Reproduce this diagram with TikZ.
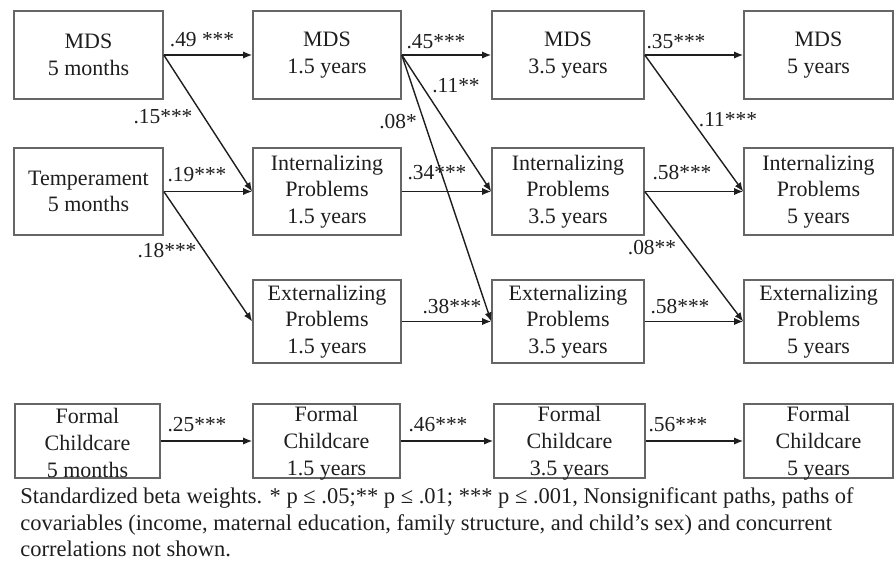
\documentclass[tikz,border=0pt]{standalone}
\usepackage{fontspec}
\setmainfont{Liberation Serif}
\usetikzlibrary{arrows.meta}
\definecolor{boxline}{HTML}{666666}
\definecolor{inkc}{HTML}{1E1E1E}
\begin{document}
\begin{tikzpicture}[x=0.5pt,y=-0.5pt,
  vbox/.style={draw=boxline, line width=0.8pt, inner sep=0pt, align=center,
    font=\fontsize{11}{13.2}\selectfont, text=inkc},
  ftext/.style={inner sep=0pt, align=center, font=\fontsize{11}{13.5}\selectfont, text=inkc},
  link/.style={draw=inkc, line width=0.7pt, -{Latex[length=4.5pt,width=3.6pt]}},
  wt/.style={font=\fontsize{10.7}{13}\selectfont, text=inkc, inner sep=0pt},
  notetext/.style={font=\fontsize{11.25}{13.5}\selectfont, text=inkc, inner sep=0pt, anchor=base west},
  ]
\useasboundingbox (0,0) rectangle (896,563);

% maternal depressive symptoms
\node[vbox, minimum width=74.5pt, minimum height=44pt] (m1) at (88.5,55) {MDS\\5 months};
\node[vbox, minimum width=74pt,   minimum height=44pt] (m2) at (327,55) {MDS\\1.5 years};
\node[vbox, minimum width=76pt,   minimum height=44pt] (m3) at (568,55) {MDS\\3.5 years};
\node[vbox, minimum width=74.5pt, minimum height=44pt] (m4) at (818.5,55) {MDS\\5 years};

% temperament and internalizing problems
\node[vbox, minimum width=74.5pt, minimum height=43.5pt] (t1) at (88.5,191.5) {Temperament\\5 months};
\node[vbox, minimum width=74pt,   minimum height=43.5pt] (i2) at (327,191.5) {Internalizing\\Problems\\1.5 years};
\node[vbox, minimum width=76pt,   minimum height=43.5pt] (i3) at (568,191.5) {Internalizing\\Problems\\3.5 years};
\node[vbox, minimum width=74.5pt, minimum height=43.5pt] (i4) at (818.5,191.5) {Internalizing\\Problems\\5 years};

% externalizing problems
\node[vbox, minimum width=74pt,   minimum height=41.5pt] (e2) at (327,321.5) {Externalizing\\Problems\\1.5 years};
\node[vbox, minimum width=76pt,   minimum height=41.5pt] (e3) at (568,321.5) {Externalizing\\Problems\\3.5 years};
\node[vbox, minimum width=74.5pt, minimum height=41.5pt] (e4) at (818.5,321.5) {Externalizing\\Problems\\5 years};

% formal childcare (text runs down onto the lower edge)
\node[vbox, minimum width=72.5pt, minimum height=37pt] (f1) at (87.5,441) {};
\node[vbox, minimum width=73.5pt, minimum height=37pt] (f2) at (326.5,441) {};
\node[vbox, minimum width=75.5pt, minimum height=37pt] (f3) at (569.5,441) {};
\node[vbox, minimum width=74.5pt, minimum height=37pt] (f4) at (818.5,441) {};
\node[ftext] (f1t) at ([yshift=-1pt]f1.center) {Formal\\Childcare\\5 months};
\node[ftext] (f2t) at ([yshift=-1pt]f2.center) {Formal\\Childcare\\1.5 years};
\node[ftext] (f3t) at ([yshift=-1pt]f3.center) {Formal\\Childcare\\3.5 years};
\node[ftext] (f4t) at ([yshift=-1pt]f4.center) {Formal\\Childcare\\5 years};

% paths
\draw[link] (m1.east) -- (m2.west);
\draw[link] (m2.east) -- (m3.west);
\draw[link] (m3.east) -- (m4.west);
\draw[link] (m1.east) -- (i2.west);
\draw[link] (t1.east) -- (i2.west);
\draw[link] (t1.east) -- (e2.west);
\draw[link] (m2.east) -- (i3.west);
\draw[link] (m2.east) -- (e3.west);
\draw[link] (i2.east) -- (i3.west);
\draw[link] (e2.east) -- (e3.west);
\draw[link] (m3.east) -- (i4.west);
\draw[link] (i3.east) -- (i4.west);
\draw[link] (i3.east) -- (e4.west);
\draw[link] (e3.east) -- (e4.west);
\draw[link] (f1.east) -- (f2.west);
\draw[link] (f2.east) -- (f3.west);
\draw[link] (f3.east) -- (f4.west);

% path weights
\node[wt] (w1)  at (202,40)  {.49 ***};
\node[wt] (w2)  at (163,117) {.15***};
\node[wt] (w3)  at (197,175) {.19***};
\node[wt] (w4)  at (167,251) {.18***};
\node[wt] (w5)  at (436,42)  {.45***};
\node[wt] (w6)  at (456,86)  {.11**};
\node[wt] (w7)  at (398,122) {.08*};
\node[wt] (w8)  at (437,173) {.34***};
\node[wt] (w9)  at (452,307) {.38***};
\node[wt] (w10) at (676,42)  {.35***};
\node[wt] (w11) at (728,120) {.11***};
\node[wt] (w12) at (682,173) {.58***};
\node[wt] (w13) at (652,248) {.08**};
\node[wt] (w14) at (680,307) {.58***};
\node[wt] (w15) at (197,425) {.25***};
\node[wt] (w16) at (438,425) {.46***};
\node[wt] (w17) at (678,425) {.56***};

% note
\node[notetext] (n1) at (20,503) {Standardized beta weights. * p ≤ .05;** p ≤ .01; *** p ≤ .001, Nonsignificant paths, paths of};
\node[notetext] (n2) at (20,530) {covariables (income, maternal education, family structure, and child’s sex) and concurrent};
\node[notetext] (n3) at (20,556) {correlations not shown.};
\end{tikzpicture}
\end{document}
